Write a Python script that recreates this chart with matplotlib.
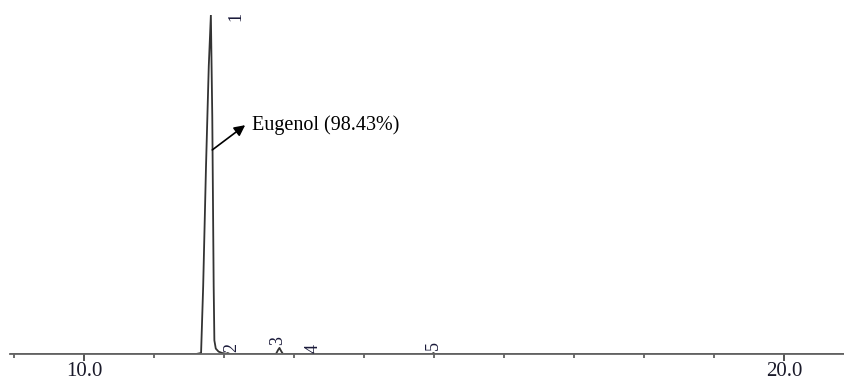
"""GC chromatogram of the eugenol fraction with labelled peaks."""

import matplotlib.pyplot as plt
from matplotlib.ticker import MultipleLocator

# retention time (min) vs. relative detector response
trace_time = [8.94, 11.60, 11.67, 11.70, 11.74, 11.78, 11.81, 11.83, 11.85, 11.86,
              11.88, 11.92, 11.97, 12.03, 12.05, 12.08, 12.74, 12.77, 12.79,
              12.81, 12.84, 13.25, 13.27, 13.29, 14.97, 14.99, 15.01, 20.90]
trace_signal = [0.0, 0.0, 0.3, 20.0, 55.0, 85.0, 100.0, 70.0, 20.0, 4.0,
                1.6, 0.7, 0.3, 0.1, 0.3, 0.0, 0.0, 1.2, 1.8,
                1.0, 0.0, 0.0, 0.3, 0.0, 0.0, 0.3, 0.0, 0.0]

peak_ids = ["1", "2", "3", "4", "5"]
peak_times = [12.17, 12.11, 12.77, 13.27, 14.99]
peak_heights = [99.7, 0.6, 2.7, 0.3, 1.2]

compound = "Eugenol"
compound_share = 98.43

serif = ["Liberation Serif", "DejaVu Serif"]

fig = plt.figure(figsize=(8.45, 3.85), dpi=100)
ax = fig.add_axes([10 / 845, 1 - 354 / 385, 835 / 845, 339 / 385])

ax.plot(trace_time, trace_signal, color="#333333", linewidth=1.3)

for pid, t, h in zip(peak_ids, peak_times, peak_heights):
    va = "center" if pid == "1" else "bottom"
    ax.text(t, h, pid, rotation=90, ha="center", va=va,
            fontsize=13, family=serif, color="#1a1a3a", clip_on=False)

# arrow runs from the main peak's flank out to its label
ax.annotate("", xy=(12.30, 67.5), xytext=(11.83, 60.2),
            arrowprops=dict(arrowstyle="-|>", color="black", lw=1.2,
                            mutation_scale=16, shrinkA=0, shrinkB=0))
ax.text(12.40, 67.5, f"{compound} ({compound_share:.2f}%)",
        ha="left", va="center", fontsize=14.5, family=serif)

ax.set_xlim(8.94, 20.87)
ax.set_ylim(0, 100)

ax.xaxis.set_minor_locator(MultipleLocator(1))
ax.set_xticks([10, 20])
ax.set_xticklabels(["10.0", "20.0"], family=serif, fontsize=15)
ax.tick_params(axis="x", which="major", length=5, width=1.3, color="#444444",
               pad=0.5, labelcolor="#1a1a2a")
ax.tick_params(axis="x", which="minor", length=3, width=1.1, color="#444444")
ax.set_yticks([])

for side in ("left", "right", "top"):
    ax.spines[side].set_visible(False)
ax.spines["bottom"].set_color("#666666")
ax.spines["bottom"].set_linewidth(1.3)

fig.savefig("out.png", dpi=100)
